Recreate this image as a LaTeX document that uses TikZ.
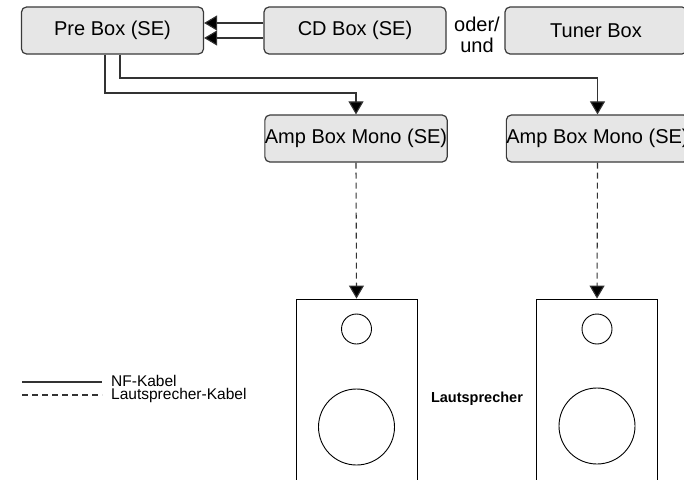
\documentclass[tikz,border=0pt]{standalone}
\usepackage{fontspec}
\setmainfont{Liberation Sans}
\usetikzlibrary{arrows.meta,calc}
\definecolor{boxline}{HTML}{3A3A3A}
\definecolor{boxfill}{HTML}{E6E6E6}
\definecolor{cable}{HTML}{333333}
\begin{document}
\begin{tikzpicture}[x=1pt,y=-1pt,
  box/.style={draw=boxline, fill=boxfill, rounded corners=5pt, line width=1.2pt,
    minimum width=182pt, minimum height=47pt, inner sep=0pt,
    font=\fontsize{20}{24}\selectfont},
  nf/.style={draw=cable, line width=1.1pt, -{Triangle[length=13pt,width=15pt,fill=black]}},
  ls/.style={nf, dash pattern=on 6pt off 4pt},
  spkbox/.style={draw=black, line width=0.9pt, minimum width=121pt, minimum height=200pt, inner sep=0pt},
  lbl/.style={inner sep=0pt, font=\fontsize{20}{24}\selectfont},
  leg/.style={inner sep=0pt, font=\fontsize{15.5}{18}\selectfont, anchor=base west}
]
\clip (0,0) rectangle (684,479);
\fill[white] (0,0) rectangle (684,479);

% boxes
\node[box] (pre) at (112.5,30.5) {Pre Box (SE)};
\node[box] (cd) at (355,30.5) {CD Box (SE)};
\node[box] (tuner) at (596,30.5) {Tuner Box};
\node[lbl, anchor=base] (oder) at (477,31) {oder/};
\node[lbl, anchor=base] (und) at (477,52) {und};
\node[box] (amp1) at (356,138.5) {Amp Box Mono (SE)};
\node[box] (amp2) at (597.5,138.5) {Amp Box Mono (SE)};

% speakers
\node[spkbox] (spk1) at (356.5,399) {};
\node[spkbox] (spk2) at (597,399) {};
\draw[line width=0.9pt] (356.5,329) circle[radius=15pt];
\draw[line width=0.9pt] (356.5,427) circle[radius=38pt];
\draw[line width=0.9pt] (597,329) circle[radius=15pt];
\draw[line width=0.9pt] (597,426) circle[radius=38pt];
\node[inner sep=0pt, font=\fontsize{14.5}{17}\selectfont\bfseries, anchor=base] (ltxt) at (477,402) {Lautsprecher};

% CD -> Pre
\draw[nf] ([yshift=7.5pt]cd.west) -- ([yshift=7.5pt]pre.east);
\draw[nf] ([yshift=-7.5pt]cd.west) -- ([yshift=-7.5pt]pre.east);

% Pre -> Amps
\coordinate (lvA) at (0,93);
\coordinate (lvB) at (0,78);
\draw[nf] ([xshift=-7.5pt]pre.south) |- (amp1.north |- lvA) -- (amp1.north);
\draw[nf] ([xshift=7.5pt]pre.south) |- (amp2.north |- lvB) -- (amp2.north);

% Amps -> speakers
\draw[ls] (amp1.south) -- (spk1.north);
\draw[ls] (amp2.south) -- (spk2.north);

% legend
\coordinate (l1a) at (22,382); \coordinate (l1b) at (102,382);
\coordinate (l2a) at (22,395); \coordinate (l2b) at (102,395);
\draw[draw=cable, line width=1.1pt] (l1a) -- (l1b);
\draw[draw=cable, line width=1.1pt, dash pattern=on 6pt off 4pt] (l2a) -- (l2b);
\node[leg] (nfk) at (111,386) {NF-Kabel};
\node[leg] (lsk) at (111,399) {Lautsprecher-Kabel};
\end{tikzpicture}
\end{document}
